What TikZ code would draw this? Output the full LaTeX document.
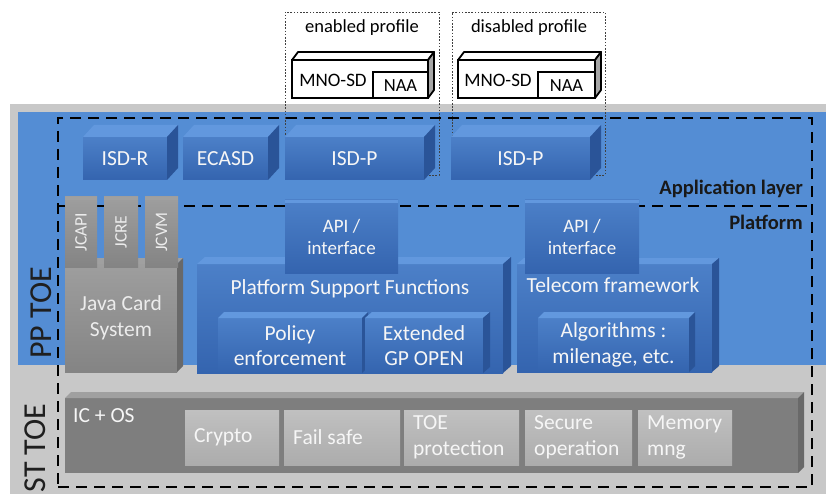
\documentclass[tikz,border=0pt]{standalone}
\usepackage{fontspec}
\setmainfont{Carlito}
\usetikzlibrary{calc}
\definecolor{bgblue}{RGB}{84,141,212}
\definecolor{bggray}{RGB}{200,200,200}
\definecolor{bxtop}{RGB}{76,128,200}
\definecolor{bxbot}{RGB}{52,100,175}
\definecolor{bxlid}{RGB}{98,152,222}
\definecolor{bxside}{RGB}{42,84,152}
\definecolor{gytop}{RGB}{158,158,158}
\definecolor{gyfront}{RGB}{132,132,132}
\definecolor{gylid}{RGB}{160,160,160}
\definecolor{gyside}{RGB}{105,105,105}
\definecolor{icfront}{RGB}{126,126,126}
\definecolor{sbtop}{RGB}{192,192,192}
\definecolor{sbbot}{RGB}{172,172,172}
\definecolor{txtw}{RGB}{246,246,246}
\definecolor{txtg}{RGB}{236,236,236}
\newcommand\fsz[2]{\fontsize{#1}{#2}\selectfont}
\newcommand\extrude[5]{%
  \path[#4] (#1.north west) -- ++(#2,-#3) -- ($(#1.north east)+(#2,-#3)$) -- (#1.north east) -- cycle;
  \path[#5] (#1.north east) -- ++(#2,-#3) -- ($(#1.south east)+(#2,-#3)$) -- (#1.south east) -- cycle;
}
\tikzset{
  boxbase/.style={rectangle, inner sep=0pt, outer sep=0pt, anchor=north west, align=center},
  bluebox/.style={boxbase, top color=bxtop, bottom color=bxbot, text=txtw, font=\fsz{21.5}{25.5}},
  smallblue/.style={bluebox, font=\fsz{19}{22}},
  graybox/.style={boxbase, top color=gytop, bottom color=gyfront, text=txtg, font=\fsz{21.5}{25.5}},
  icbox/.style={boxbase, fill=icfront},
  subbox/.style={boxbase, top color=sbtop, bottom color=sbbot},
  subtxt/.style={inner sep=0pt, anchor=west, align=left, text=txtw, font=\fsz{21.5}{26}},
  dotframe/.style={boxbase, draw=black!75, line width=0.8pt, dash pattern=on 1.6pt off 1.6pt},
  dashframe/.style={boxbase, draw=black, line width=2.7pt, dash pattern=on 11pt off 7pt},
  dashline/.style={draw=black, line width=2.7pt, dash pattern=on 11pt off 7pt},
  profbox/.style={boxbase, draw=black, line width=1.8pt, fill=white},
  proftxt/.style={inner sep=0pt, font=\fsz{18.5}{22}, text=black},
  layertxt/.style={inner sep=0pt, anchor=east, font=\bfseries\fsz{20.5}{23}, text=black!90},
  toetxt/.style={inner sep=0pt, rotate=90, anchor=base, font=\fsz{32}{36}, text=black!88},
}
\begin{document}
\begin{tikzpicture}[x=1pt,y=-1pt]
\useasboundingbox (0,0) rectangle (826,494);
\fill[bggray] (10,104) rectangle (826,494);
\fill[bgblue] (18,112) rectangle (826,365);

% profile frames
\node[dotframe, minimum width=154, minimum height=163] (fen) at (285,12) {};
\node[dotframe, minimum width=153, minimum height=163] (fdis) at (452,12) {};
\node[proftxt] (lblen) at (362,28) {enabled profile};
\node[proftxt] (lbldis) at (529,28) {disabled profile};

% profile boxes
\node[profbox, minimum width=136, minimum height=38] (pf1) at (292,60) {};
\extrude{pf1}{6}{8}{fill=white, draw=black, line width=1.8pt, line join=round}{fill=black!35, draw=black, line width=1.8pt, line join=round}
\node[profbox, minimum width=55, minimum height=26, anchor=south east] (naa1) at (pf1.south east) {};
\node[proftxt] (naa1t) at ($(naa1.center)+(0,1)$) {NAA};
\node[proftxt, font=\fsz{19}{22}] (mno1) at (333,80) {MNO-SD};

\node[profbox, minimum width=137, minimum height=38] (pf2) at (458,60) {};
\extrude{pf2}{6}{8}{fill=white, draw=black, line width=1.8pt, line join=round}{fill=black!35, draw=black, line width=1.8pt, line join=round}
\node[profbox, minimum width=57, minimum height=26, anchor=south east] (naa2) at (pf2.south east) {};
\node[proftxt] (naa2t) at ($(naa2.center)+(0,1)$) {NAA};
\node[proftxt, font=\fsz{19}{22}] (mno2) at (498,80) {MNO-SD};

% TOE frame
\node[dashframe, minimum width=754, minimum height=369] (toe) at (58,118) {};
\coordinate (sepl) at (58,206);
\coordinate (sepr) at (812,206);
\draw[dashline] (sepl) -- (sepr);
\node[layertxt] (applbl) at (803,189) {Application layer};
\node[layertxt] (platlbl) at (803,222) {Platform};

% TOE labels
\node[toetxt] (pptoe) at (51,313) {PP TOE};
\node[toetxt] (sttoe) at (45,448) {ST TOE};

% application layer
\node[bluebox, minimum width=84, minimum height=43] (isdr) at (83,137) {ISD-R};
\extrude{isdr}{11}{12}{fill=bxlid}{fill=bxside}
\node[bluebox, minimum width=85, minimum height=43] (ecasd) at (183,137) {ECASD};
\extrude{ecasd}{11}{12}{fill=bxlid}{fill=bxside}
\node[bluebox, minimum width=139, minimum height=43] (isdp1) at (285,137) {ISD-P};
\extrude{isdp1}{11}{12}{fill=bxlid}{fill=bxside}
\node[bluebox, minimum width=139, minimum height=43] (isdp2) at (451,137) {ISD-P};
\extrude{isdp2}{11}{12}{fill=bxlid}{fill=bxside}

% Java Card
\node[graybox, minimum width=112, minimum height=108] (jcs) at (65,264) {Java Card\\System};
\extrude{jcs}{6}{6}{fill=gylid}{fill=gyside}
\node[graybox, minimum width=32, minimum height=70] (jcapi) at (65,197) {};
\node[graybox, minimum width=34, minimum height=70] (jcre) at (104,197) {};
\node[graybox, minimum width=33, minimum height=70] (jcvm) at (145,197) {};
\fill[gylid] (jcapi.north west) rectangle ($(jcapi.north east)+(0,3)$);
\fill[gylid] (jcre.north west) rectangle ($(jcre.north east)+(0,3)$);
\fill[gylid] (jcvm.north west) rectangle ($(jcvm.north east)+(0,3)$);
\node[rotate=90, inner sep=0pt, text=txtg, font=\fsz{17.5}{20}] (jcapit) at (jcapi.center) {JCAPI};
\node[rotate=90, inner sep=0pt, text=txtg, font=\fsz{17.5}{20}] (jcret) at (jcre.center) {JCRE};
\node[rotate=90, inner sep=0pt, text=txtg, font=\fsz{17.5}{20}] (jcvmt) at (jcvm.center) {JCVM};

% Platform support functions
\node[bluebox, minimum width=306, minimum height=109] (psf) at (197,264) {};
\extrude{psf}{8}{7}{fill=bxlid}{fill=bxside}
\node[inner sep=0pt, text=txtw, font=\fsz{21.5}{25}] (psft) at (350,289) {Platform Support Functions};
\node[bluebox, minimum width=144, minimum height=55] (pol) at (218,318) {Policy\\enforcement};
\extrude{pol}{6}{6}{fill=bxlid}{fill=bxside}
\node[bluebox, minimum width=118, minimum height=55] (ext) at (365,318) {Extended\\GP OPEN};
\extrude{ext}{7}{6}{fill=bxlid}{fill=bxside}
\node[smallblue, minimum width=113, minimum height=73] (api1) at (285,200) {API /\\interface};
\fill[bxlid] (api1.north west) rectangle ($(api1.north east)+(0,3)$);

% Telecom framework
\node[bluebox, minimum width=195, minimum height=108] (tf) at (517,264) {};
\extrude{tf}{7}{6}{fill=bxlid}{fill=bxside}
\node[inner sep=0pt, text=txtw, font=\fsz{21.5}{25}] (tft) at (613,285) {Telecom framework};
\node[bluebox, minimum width=151, minimum height=54] (algo) at (538,318) {Algorithms :\\milenage, etc.};
\extrude{algo}{6}{6}{fill=bxlid}{fill=bxside}
\node[smallblue, minimum width=114, minimum height=73] (api2) at (525,200) {API /\\interface};
\fill[bxlid] (api2.north west) rectangle ($(api2.north east)+(0,3)$);

% IC + OS
\node[icbox, minimum width=733, minimum height=75] (icos) at (65,398) {};
\extrude{icos}{6}{6}{fill=gylid}{fill=gyside}
\node[subtxt, anchor=base west] (icost) at (73,422) {IC + OS};
\node[subbox, minimum width=94, minimum height=55] (crypto) at (185,410) {};
\node[subbox, minimum width=116, minimum height=55] (fail) at (284,410) {};
\node[subbox, minimum width=115, minimum height=55] (toep) at (404,410) {};
\node[subbox, minimum width=107, minimum height=55] (secop) at (525,410) {};
\node[subbox, minimum width=94, minimum height=55] (mem) at (638,410) {};
\node[subtxt] (cryptot) at ($(crypto.west)+(9,0)$) {Crypto};
\node[subtxt] (failt) at ($(fail.west)+(9,0)$) {Fail safe};
\node[subtxt] (toept) at ($(toep.west)+(9,0)$) {TOE\\protection};
\node[subtxt] (secopt) at ($(secop.west)+(9,0)$) {Secure\\operation};
\node[subtxt] (memt) at ($(mem.west)+(9,0)$) {Memory\\mng};
\end{tikzpicture}
\end{document}
